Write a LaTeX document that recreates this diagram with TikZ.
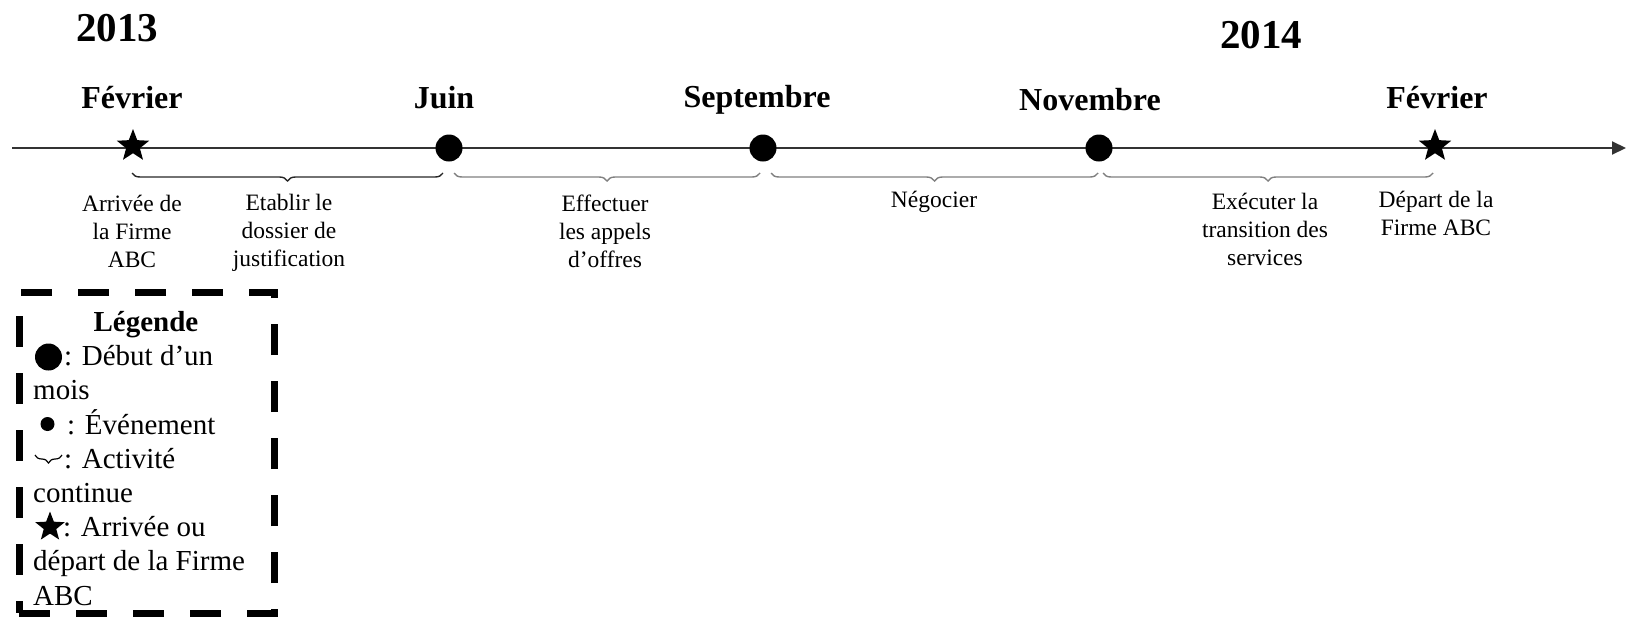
\documentclass[tikz,border=0pt]{standalone}
\usepackage{fontspec}
\setmainfont{Liberation Serif}
\usetikzlibrary{arrows.meta,shapes.geometric,decorations.pathreplacing,positioning}

\begin{document}
\begin{tikzpicture}[x=1pt,y=1pt,
  mois/.style={circle,fill=black,inner sep=0pt,minimum size=27pt},
  etoile/.style={star,star points=5,star point ratio=2.35,fill=black,inner sep=0pt,minimum size=34pt},
  nommois/.style={font=\fontsize{32}{38}\selectfont\bfseries,anchor=base,inner sep=0pt},
  annee/.style={font=\fontsize{41}{48}\selectfont\bfseries,anchor=base,inner sep=0pt},
  texte/.style={font=\fontsize{23.5}{28}\selectfont,align=center,anchor=base,inner sep=0pt},
  activite/.style={decorate,decoration={brace,mirror,amplitude=8pt,aspect=0.5},line width=1.4pt},
  legtexte/.style={font=\fontsize{29}{34}\selectfont,anchor=base west,inner sep=0pt},
]
\useasboundingbox (0,0) rectangle (1632,-619);

% axe du temps
\coordinate (debut) at (12,-148);
\coordinate (fin) at (1626,-148);
\draw[line width=2pt,black!80,-{Triangle[length=14pt,width=13pt]}] (debut) -- (fin);

\node[etoile] (fev13) at (133,-146) {};
\node[etoile] (fev14) at (1435,-146) {};
\foreach \nom/\x in {juin/449,sept/763,nov/1099}{
\node[mois] (\nom) at (\x,-148) {};
}

% annees et mois
\node[annee] (a2013) at (117,-41) {2013};
\node[annee] (a2014) at (1261,-48) {2014};
\node[nommois] (lfev13) at (132,-108) {Février};
\node[nommois] (ljuin) at (444,-108) {Juin};
\node[nommois] (lsept) at (757,-107) {Septembre};
\node[nommois] (lnov) at (1090,-110) {Novembre};
\node[nommois] (lfev14) at (1437,-108) {Février};

% activites
\coordinate (b1a) at (132,-173); \coordinate (b1b) at (443,-173);
\coordinate (b2a) at (454,-173); \coordinate (b2b) at (760,-173);
\coordinate (b3a) at (771,-173); \coordinate (b3b) at (1098,-173);
\coordinate (b4a) at (1103,-173); \coordinate (b4b) at (1433,-173);
\draw[activite,black!85] (b1a) -- (b1b);
\draw[activite,gray] (b2a) -- (b2b);
\draw[activite,gray] (b3a) -- (b3b);
\draw[activite,gray] (b4a) -- (b4b);

% texte: base = derniere ligne
\node[texte] (arrivee) at (132,-267) {Arrivée de\\la Firme\\ABC};
\node[texte] (etablir) at (289,-266) {Etablir le\\dossier de\\justification};
\node[texte] (effectuer) at (605,-267) {Effectuer\\les appels\\d’offres};
\node[texte] (negocier) at (934,-207) {Négocier};
\node[texte] (executer) at (1265,-265) {Exécuter la\\transition des\\services};
\node[texte] (depart) at (1436,-235) {Départ de la\\Firme ABC};

% legende
\node[draw,line width=7pt,dash pattern=on 31pt off 26pt,minimum width=255pt,minimum height=321pt,inner sep=0pt] (legende) at (146.5,-452.5) {};
\node[legtexte,anchor=base,font=\fontsize{29}{34}\selectfont\bfseries] (ltitre) at (146,-331) {Légende};
\node[mois] (lmois) at (48.5,-357) {};
\node[legtexte] (l1) at (64,-365) {: Début d’un};
\node[legtexte] (l2) at (33,-399) {mois};
\node[circle,fill=black,inner sep=0pt,minimum size=14pt] (levt) at (47.5,-424) {};
\node[legtexte] (l3) at (67,-434) {: Événement};
\coordinate (lba) at (35,-455); \coordinate (lbb) at (62,-455);
\draw[activite,line width=1.2pt] (lba) -- (lbb);
\node[legtexte] (l4) at (64,-468) {: Activité};
\node[legtexte] (l5) at (33,-502) {continue};
\node[etoile,minimum size=31pt] (letoile) at (50,-527) {};
\node[legtexte] (l6) at (63,-536) {: Arrivée ou};
\node[legtexte] (l7) at (33,-570) {départ de la Firme};
\node[legtexte] (l8) at (33,-605) {ABC};
\end{tikzpicture}
\end{document}
